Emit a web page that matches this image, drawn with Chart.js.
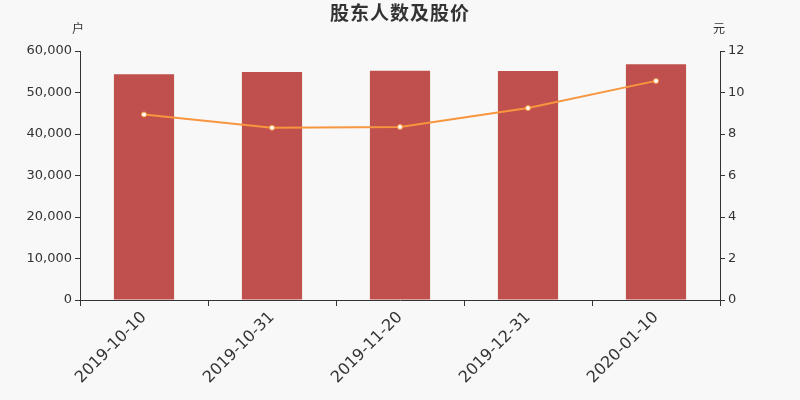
<!DOCTYPE html>
<html>
<head>
<meta charset="utf-8">
<script src="https://cdn.jsdelivr.net/npm/chart.js@4/dist/chart.umd.min.js"></script>
<style>
  html, body { margin: 0; padding: 0; background: #f8f8f8; }
  #wrap { width: 800px; height: 400px; }
</style>
</head>
<body>
<div id="wrap"><canvas id="holderChart" width="800" height="400"></canvas></div>
<script>
// 股东人数及股价
const dates = ['2019-10-10', '2019-10-31', '2019-11-20', '2019-12-31', '2020-01-10'];
const holders = [54400, 54950, 55270, 55200, 56800];   // 户
const prices = [8.94, 8.30, 8.34, 9.25, 10.56];        // 元

const textColor = '#333';
const fontFamily = '"DejaVu Sans", "Noto Sans CJK SC", sans-serif';

// 标题和单位
const headerPlugin = {
  id: 'header',
  afterDraw(chart) {
    const ctx = chart.ctx;
    const left = chart.scales.y, right = chart.scales.y1;
    ctx.save();
    ctx.fillStyle = textColor;
    ctx.textAlign = 'center';
    ctx.textBaseline = 'middle';
    ctx.font = 'bold 19px "Noto Sans CJK SC", sans-serif';
    ctx.letterSpacing = '1px';
    ctx.fillText('股东人数及股价', 400, 13);
    ctx.letterSpacing = '0px';
    ctx.font = '12px "Noto Sans CJK SC", sans-serif';
    ctx.fillText('户', left.right - 2, 28);
    ctx.fillText('元', right.left - 1, 28);
    ctx.restore();
  }
};

const ctx = document.getElementById('holderChart').getContext('2d');
new Chart(ctx, {
  data: {
    labels: dates,
    datasets: [
      {
        type: 'line',
        label: '股价',
        data: prices,
        yAxisID: 'y1',
        borderColor: '#f7963f',
        borderWidth: 2,
        pointRadius: 2.5,
        pointBackgroundColor: '#fff',
        pointBorderColor: '#f7963f',
        pointBorderWidth: 1,
        tension: 0,
        order: 1
      },
      {
        type: 'bar',
        label: '股东人数',
        data: holders,
        yAxisID: 'y',
        backgroundColor: '#c0504d',
        categoryPercentage: 1,
        barPercentage: 0.47,
        order: 2
      }
    ]
  },
  options: {
    responsive: false,
    animation: false,
    layout: { padding: { top: 51, left: 0, right: 0, bottom: 0 } },
    plugins: {
      legend: { display: false },
      title: { display: false },
      tooltip: { enabled: false }
    },
    scales: {
      x: {
        offset: true,
        grid: { display: true, drawOnChartArea: false, offset: true, tickLength: 6, color: textColor },
        border: { display: true, color: textColor },
        ticks: {
          color: textColor,
          font: { family: fontFamily, size: 16 },
          maxRotation: 45, minRotation: 45, padding: 2
        },
        afterFit(scale) { scale.height = 100; }
      },
      y: {
        position: 'left',
        min: 0, max: 60000,
        grid: { display: true, drawOnChartArea: false, tickLength: 5, color: textColor },
        border: { display: true, color: textColor },
        ticks: {
          stepSize: 10000,
          color: textColor,
          font: { family: fontFamily, size: 13 },
          padding: 3,
          callback: v => v.toLocaleString('en-US')
        },
        afterFit(scale) { scale.width = 80; }
      },
      y1: {
        position: 'right',
        min: 0, max: 12,
        grid: { display: true, drawOnChartArea: false, tickLength: 5, color: textColor },
        border: { display: true, color: textColor },
        ticks: {
          stepSize: 2,
          color: textColor,
          font: { family: fontFamily, size: 13 },
          padding: 3
        },
        afterFit(scale) { scale.width = 80; }
      }
    }
  },
  plugins: [headerPlugin]
});
</script>
</body>
</html>
